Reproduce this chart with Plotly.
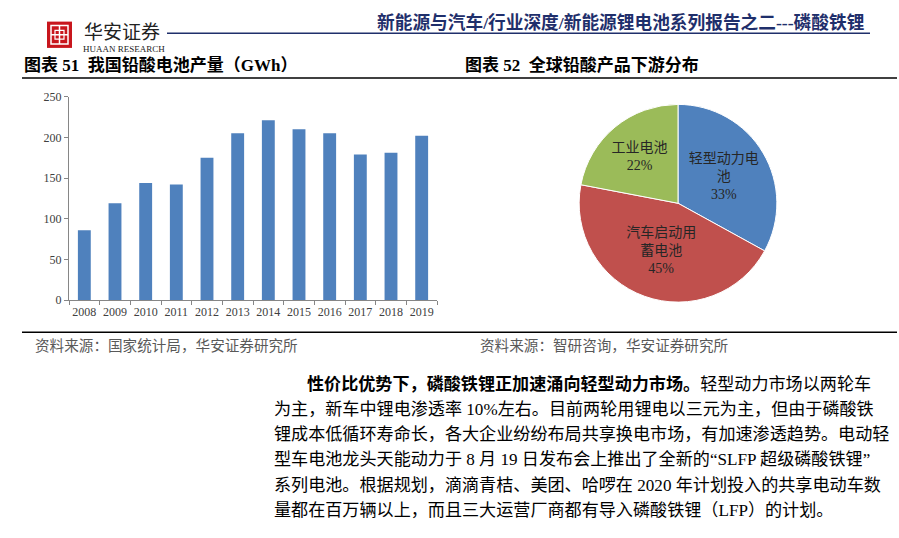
import plotly.graph_objects as go

W, H = 899, 538

years = ["2008", "2009", "2010", "2011", "2012", "2013", "2014", "2015", "2016", "2017", "2018", "2019"]
output_gwh = [86, 119, 144, 142, 175, 205, 221, 210, 205, 179, 181, 202]
y_ticks = [0, 50, 100, 150, 200, 250]

pie_labels = ["轻型动力电池", "汽车启动用蓄电池", "工业电池"]
pie_text = ["轻型动力电<br>池<br>33%", "汽车启动用<br>蓄电池<br>45%", "工业电池<br>22%"]
pie_values = [33, 45, 22]
pie_colors = ["#4F81BD", "#C0504D", "#9BBB59"]

header = "新能源与汽车/行业深度/新能源锂电池系列报告之二---磷酸铁锂"
title1 = "图表 51  我国铅酸电池产量（GWh）"
title2 = "图表 52  全球铅酸产品下游分布"
source1 = "资料来源：国家统计局，华安证券研究所"
source2 = "资料来源：智研咨询，华安证券研究所"
body_lines = [
    "<b>性价比优势下，磷酸铁锂正加速涌向轻型动力市场。</b>轻型动力市场以两轮车",
    "为主，新车中锂电渗透率 10%左右。目前两轮用锂电以三元为主，但由于磷酸铁",
    "锂成本低循环寿命长，各大企业纷纷布局共享换电市场，有加速渗透趋势。电动轻",
    "型车电池龙头天能动力于 8 月 19 日发布会上推出了全新的“SLFP 超级磷酸铁锂”",
    "系列电池。根据规划，滴滴青桔、美团、哈啰在 2020 年计划投入的共享电动车数",
    "量都在百万辆以上，而且三大运营厂商都有导入磷酸铁锂（LFP）的计划。",
]

CJK = "Liberation Serif, Noto Sans CJK SC"

def px(x):
    return x / W

def py(y):
    return 1 - y / H

fig = go.Figure()

fig.add_trace(go.Bar(
    x=years, y=output_gwh, marker=dict(color="#4F81BD", line=dict(width=0)),
    xaxis="x", yaxis="y", showlegend=False, hoverinfo="x+y",
))

fig.add_trace(go.Pie(
    labels=pie_labels, values=pie_values, text=pie_text,
    marker=dict(colors=pie_colors, line=dict(color="white", width=1)),
    textinfo="text", textposition="inside", insidetextorientation="horizontal",
    textfont=dict(family=CJK, size=14, color="#262626"),
    sort=False, direction="clockwise", rotation=0, showlegend=False,
    domain=dict(x=[px(578), px(778)], y=[py(303), py(100)]),
    hoverinfo="label+percent",
))

axis_font = dict(family="Liberation Serif", size=12, color="#404040")
fig.update_layout(
    width=W, height=H, margin=dict(l=0, r=0, t=0, b=0),
    paper_bgcolor="white", plot_bgcolor="white",
    bargap=0.58,
    xaxis=dict(domain=[px(69), px(437)], anchor="y", showgrid=False,
               showline=True, linecolor="#868686", linewidth=1,
               ticks="outside", tickson="boundaries", ticklen=4, tickcolor="#868686",
               tickangle=0, tickfont=axis_font, fixedrange=True),
    yaxis=dict(domain=[py(301), py(92)], anchor="x", range=[0, 250],
               tickvals=y_ticks, showgrid=False, zeroline=False,
               showline=True, linecolor="#868686", linewidth=1,
               ticks="outside", ticklen=4, tickcolor="#868686",
               tickfont=axis_font, fixedrange=True),
)

shapes = []
# logo
shapes.append(dict(type="rect", xref="paper", yref="paper", x0=px(47), x1=px(72), y0=py(42), y1=py(15),
                   fillcolor="#C8161D", line=dict(width=0)))
shapes.append(dict(type="rect", xref="paper", yref="paper", x0=px(51), x1=px(68), y0=py(38), y1=py(19),
                   fillcolor="rgba(0,0,0,0)", line=dict(color="white", width=1.5)))
shapes.append(dict(type="line", xref="paper", yref="paper", x0=px(51), x1=px(68), y0=py(28.5), y1=py(28.5),
                   line=dict(color="white", width=1.5)))
shapes.append(dict(type="line", xref="paper", yref="paper", x0=px(59.5), x1=px(59.5), y0=py(38), y1=py(19),
                   line=dict(color="white", width=1.5)))
shapes.append(dict(type="rect", xref="paper", yref="paper", x0=px(55), x1=px(64), y0=py(33), y1=py(24),
                   fillcolor="rgba(0,0,0,0)", line=dict(color="white", width=1.2)))
# header rule
shapes.append(dict(type="line", xref="paper", yref="paper", x0=px(167), x1=px(870), y0=py(27), y1=py(27),
                   line=dict(color="#1F2F6B", width=1.5)))
# title rule
shapes.append(dict(type="line", xref="paper", yref="paper", x0=px(22), x1=px(897), y0=py(73), y1=py(73),
                   line=dict(color="black", width=1.5)))
# bottom rule
shapes.append(dict(type="line", xref="paper", yref="paper", x0=px(22), x1=px(897), y0=py(334), y1=py(334),
                   line=dict(color="black", width=1.5)))

ann = []
def text(x, y, s, size, color="black", family=CJK, xanchor="left"):
    ann.append(dict(x=px(x), y=py(y), xref="paper", yref="paper", text=s, showarrow=False,
                    xanchor=xanchor, yanchor="middle", align="left",
                    font=dict(family=family, size=size, color=color)))

text(82, 24, "华安证券", 19, color="#222222", family="Noto Sans CJK SC")
text(81, 43, "HUAAN RESEARCH", 9, color="#222222", family="Liberation Serif")
text(867, 16, "<b>" + header + "</b>", 17.7, color="#1F2F6B", xanchor="right")
text(22, 60, "<b>" + title1 + "</b>", 17)
text(463, 60, "<b>" + title2 + "</b>", 17)
text(33, 348, source1, 14.6, color="#595959")
text(478, 348, source2, 14.6, color="#595959")
for i, line in enumerate(body_lines):
    text(305 if i == 0 else 272, 387 + 26 * i, line, 17.1)

fig.update_layout(shapes=shapes, annotations=ann)
fig.write_html("out.html")
